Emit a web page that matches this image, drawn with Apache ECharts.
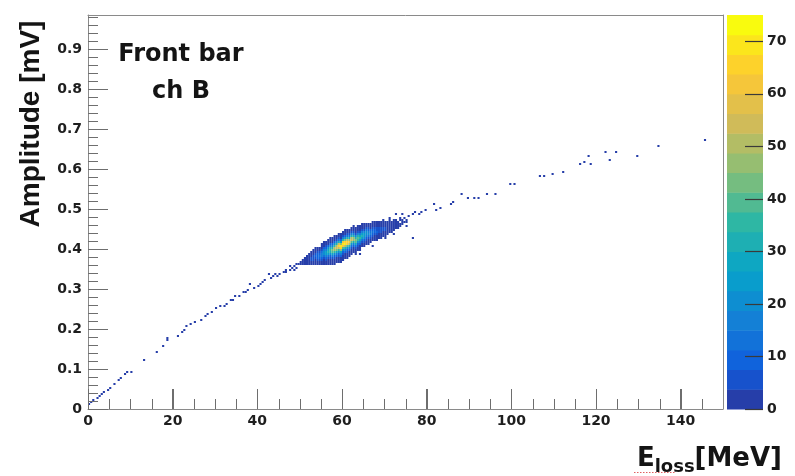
<!DOCTYPE html>
<html>
<head>
<meta charset="utf-8">
<script src="https://cdn.jsdelivr.net/npm/echarts@6/dist/echarts.min.js"></script>
<style>
  html, body { margin: 0; padding: 0; background: #fff; }
  #chart { width: 795px; height: 476px; }
</style>
</head>
<body>
<div id="chart"></div>
<script>
// Histogram binning: energy loss (MeV) x amplitude (mV)
const BIN_E = 0.5;
const BIN_A = 0.005;

// Axis ranges and tick spacing
const xRange = [0, 150];
const yRange = [0, 0.985];
const zRange = [0, 75];
const xMajor = 20, xMinor = 5;
const yMajor = 0.1, yMinor = 0.02;
const zMajor = 10;
const nContours = 20;

// Dense core of the distribution, one entry per energy bin:
// [E low edge, low edge of first amplitude bin, counts going upward]
const coreColumns = [
  [49.5, 0.360, [1]],
  [50.0, 0.360, [1, 1]],
  [50.5, 0.360, [1, 1, 1]],
  [51.0, 0.360, [1, 2, 1, 1]],
  [51.5, 0.360, [1, 2, 2, 1, 1]],
  [52.0, 0.360, [1, 1, 3, 3, 2, 1]],
  [52.5, 0.360, [1, 2, 4, 4, 2, 1, 1]],
  [53.0, 0.360, [1, 2, 4, 6, 5, 2, 1, 1]],
  [53.5, 0.360, [1, 1, 3, 6, 8, 6, 3, 1, 1]],
  [54.0, 0.360, [1, 2, 5, 9, 11, 8, 4, 1, 1]],
  [54.5, 0.360, [1, 3, 7, 11, 14, 10, 5, 2, 1]],
  [55.0, 0.360, [1, 2, 5, 10, 15, 17, 12, 6, 2, 1, 1]],
  [55.5, 0.360, [1, 1, 3, 7, 13, 19, 21, 15, 8, 3, 1, 1]],
  [56.0, 0.360, [1, 2, 5, 10, 18, 24, 25, 18, 10, 4, 1, 1]],
  [56.5, 0.360, [1, 1, 3, 7, 14, 23, 30, 28, 19, 9, 3, 1, 1]],
  [57.0, 0.360, [1, 1, 2, 5, 10, 20, 30, 36, 30, 18, 8, 3, 1, 1]],
  [57.5, 0.360, [1, 1, 3, 7, 15, 27, 38, 42, 32, 18, 8, 2, 1, 1]],
  [58.0, 0.360, [1, 1, 2, 5, 11, 20, 34, 46, 49, 36, 19, 8, 3, 1, 1]],
  [58.5, 0.365, [1, 1, 3, 8, 15, 28, 44, 56, 51, 32, 15, 5, 1, 1]],
  [59.0, 0.365, [1, 1, 2, 5, 11, 21, 37, 55, 64, 53, 32, 14, 5, 1, 1]],
  [59.5, 0.365, [1, 1, 3, 8, 16, 29, 48, 67, 68, 47, 23, 9, 3, 1, 1]],
  [60.0, 0.370, [1, 1, 2, 5, 11, 22, 39, 61, 71, 60, 36, 16, 6, 2, 1]],
  [60.5, 0.375, [1, 1, 3, 8, 16, 30, 51, 68, 64, 42, 20, 8, 2, 1, 1]],
  [61.0, 0.375, [1, 1, 2, 5, 11, 22, 41, 61, 66, 52, 30, 13, 4, 1, 1]],
  [61.5, 0.380, [1, 1, 3, 8, 16, 31, 51, 60, 48, 28, 12, 4, 1, 1]],
  [62.0, 0.385, [1, 1, 2, 6, 12, 24, 41, 55, 50, 33, 16, 6, 2, 1]],
  [62.5, 0.390, [1, 1, 3, 9, 18, 33, 47, 46, 32, 16, 6, 2, 1, 1]],
  [63.0, 0.385, [1, 1, 2, 6, 14, 27, 40, 43, 33, 17, 7, 2, 1, 1]],
  [63.5, 0.395, [1, 1, 4, 10, 21, 34, 39, 30, 17, 7, 2, 1, 1]],
  [64.0, 0.395, [1, 1, 3, 8, 17, 28, 34, 28, 16, 7, 2, 1, 1]],
  [64.5, 0.405, [1, 2, 6, 13, 23, 30, 26, 16, 7, 3, 1, 1]],
  [65.0, 0.405, [1, 1, 5, 11, 19, 26, 23, 15, 7, 2, 1, 1]],
  [65.5, 0.410, [1, 1, 4, 9, 16, 22, 19, 12, 5, 2, 1]],
  [66.0, 0.410, [1, 1, 3, 7, 13, 19, 16, 10, 4, 1, 1]],
  [66.5, 0.415, [1, 2, 6, 11, 16, 13, 8, 3, 1, 1]],
  [67.0, 0.420, [1, 1, 4, 9, 13, 11, 7, 3, 1, 1]],
  [67.5, 0.420, [1, 1, 3, 7, 11, 9, 5, 2, 1, 1]],
  [68.0, 0.420, [1, 1, 3, 6, 9, 7, 4, 2, 1, 1]],
  [68.5, 0.425, [1, 1, 2, 5, 7, 6, 3, 1, 1]],
  [69.0, 0.425, [1, 1, 2, 4, 6, 5, 2, 1, 1]],
  [69.5, 0.430, [1, 1, 3, 5, 4, 2, 1, 1]],
  [70.0, 0.430, [1, 1, 2, 4, 4, 2, 1, 1]],
  [70.5, 0.435, [1, 1, 2, 3, 3, 1, 1]],
  [71.0, 0.440, [1, 1, 2, 3, 2, 1, 1]],
  [71.5, 0.440, [1, 1, 2, 2, 1, 1]],
  [72.0, 0.445, [1, 1, 2, 2, 1, 1]],
  [72.5, 0.450, [1, 1, 2, 1, 1]],
  [73.0, 0.450, [1, 1, 1, 1]],
  [73.5, 0.455, [1, 1, 0, 1]],
  [74.0, 0.460, [1, 1, 1]],
  [74.5, 0.465, [1, 0, 1]],
  [75.0, 0.465, [1, 1]]
];

// Sparse entries along the response curve: [E (MeV), amplitude (mV), counts]
const trackEntries = [
  [0.2, 0.012, 3], [0.7, 0.017, 1], [1.3, 0.022, 1], [2.0, 0.028, 1],
  [2.6, 0.033, 1], [3.3, 0.038, 1], [3.9, 0.043, 1], [4.6, 0.049, 1],
  [5.3, 0.053, 1], [6.2, 0.062, 1], [7.0, 0.071, 1], [7.6, 0.075, 1],
  [8.6, 0.087, 1], [9.3, 0.090, 1], [10.2, 0.093, 1], [13.3, 0.124, 1],
  [16.0, 0.143, 1], [17.6, 0.157, 1], [18.7, 0.172, 1], [18.8, 0.179, 1],
  [21.2, 0.181, 1], [22.0, 0.191, 1],
  [22.9, 0.198, 1], [23.3, 0.206, 1], [24.2, 0.210, 1], [25.3, 0.218, 1],
  [26.5, 0.222, 1], [27.6, 0.231, 1], [28.4, 0.236, 1], [29.2, 0.243, 1],
  [30.4, 0.252, 1], [31.2, 0.257, 1], [32.0, 0.259, 1], [32.8, 0.264, 1],
  [33.7, 0.274, 2], [34.2, 0.270, 1], [34.7, 0.281, 1], [35.5, 0.283, 1],
  [36.7, 0.293, 1], [37.4, 0.290, 1], [37.9, 0.297, 1], [38.3, 0.314, 1],
  [39.2, 0.301, 1], [40.0, 0.307, 1], [40.6, 0.314, 1], [41.2, 0.318, 1],
  [41.8, 0.322, 1], [42.6, 0.339, 1], [43.0, 0.327, 1], [43.6, 0.331, 1],
  [44.0, 0.336, 1], [44.6, 0.331, 1], [45.0, 0.338, 1], [45.4, 0.335, 1],
  [46.2, 0.340, 1], [46.5, 0.348, 1], [46.9, 0.343, 1], [47.5, 0.347, 1],
  [47.8, 0.356, 1], [48.1, 0.352, 2], [48.5, 0.348, 1], [48.9, 0.356, 1],
  [49.0, 0.362, 1], [49.4, 0.352, 1],
  [53.2, 0.398, 1], [55.0, 0.405, 1], [57.8, 0.428, 1], [64.0, 0.388, 1],
  [66.5, 0.462, 1], [67.0, 0.408, 1], [68.2, 0.468, 1], [69.8, 0.472, 1],
  [70.2, 0.426, 1], [71.0, 0.476, 1], [72.3, 0.436, 1],
  [72.9, 0.485, 1], [73.5, 0.476, 1], [74.1, 0.489, 1], [74.5, 0.479, 1],
  [75.3, 0.458, 1], [75.8, 0.482, 1], [76.5, 0.489, 1], [76.9, 0.425, 1],
  [77.3, 0.493, 1], [78.0, 0.485, 1], [78.8, 0.493, 1], [79.6, 0.496, 1],
  [81.6, 0.510, 1], [82.4, 0.497, 1], [83.0, 0.503, 1], [85.5, 0.510, 1],
  [86.3, 0.518, 1], [88.3, 0.537, 1], [89.5, 0.527, 1], [91.4, 0.527, 1],
  [92.0, 0.529, 1], [94.2, 0.535, 1], [96.1, 0.539, 1], [99.7, 0.560, 1],
  [100.9, 0.564, 1], [106.8, 0.581, 1], [107.9, 0.581, 1], [109.9, 0.588, 1],
  [112.3, 0.593, 1], [116.2, 0.610, 1], [117.0, 0.618, 1], [118.4, 0.631, 1],
  [118.8, 0.614, 1], [122.4, 0.641, 1], [123.3, 0.622, 1], [124.9, 0.641, 1],
  [129.8, 0.632, 1], [134.9, 0.656, 1], [145.7, 0.672, 1]
];

// ---- fill the 2D histogram ----
const cells = new Map();
function fillBin(ix, iy, w) {
  const key = ix + ',' + iy;
  cells.set(key, (cells.get(key) || 0) + w);
}
coreColumns.forEach(([e, a0, counts]) => {
  const ix = Math.round(e / BIN_E);
  const iy0 = Math.round(a0 / BIN_A);
  counts.forEach((c, j) => { if (c > 0) fillBin(ix, iy0 + j, c); });
});
trackEntries.forEach(([e, a, c]) => {
  fillBin(Math.floor(e / BIN_E + 1e-9), Math.floor(a / BIN_A + 1e-9), c);
});
const histData = [];
cells.forEach((v, k) => {
  const [ix, iy] = k.split(',').map(Number);
  histData.push([ix * BIN_E, iy * BIN_A, v]);
});

// ---- frame tick marks along the bottom and left edges: [x, y, orientation, length px] ----
const tickMarks = [];
for (let i = 0; xRange[0] + i * xMinor <= xRange[1] - 1e-9; i++) {
  tickMarks.push([xRange[0] + i * xMinor, yRange[0], 0, (i % Math.round(xMajor / xMinor) === 0) ? 20 : 10]);
}
for (let i = 0; yRange[0] + i * yMinor <= yRange[1] + 1e-9; i++) {
  tickMarks.push([xRange[0], +(yRange[0] + i * yMinor).toFixed(4), 1, (i % Math.round(yMajor / yMinor) === 0) ? 20 : 10]);
}

// ---- "bird" colour palette, 20 contour bands ----
const birdR = [0.2082, 0.0592, 0.0780, 0.0232, 0.1802, 0.5301, 0.8186, 0.9956, 0.9764];
const birdG = [0.1664, 0.3599, 0.5041, 0.6419, 0.7178, 0.7492, 0.7328, 0.7862, 0.9832];
const birdB = [0.5293, 0.8684, 0.8385, 0.7914, 0.6425, 0.4662, 0.3499, 0.1968, 0.0539];
function bird(t) {
  t = Math.max(0, Math.min(1, t));
  const i = Math.min(7, Math.floor(t * 8));
  const f = t * 8 - i;
  const ch = k => Math.round(255 * (k[i] + (k[i + 1] - k[i]) * f));
  return 'rgb(' + ch(birdR) + ',' + ch(birdG) + ',' + ch(birdB) + ')';
}
const bandStep = (zRange[1] - zRange[0]) / nContours;
const bands = [];
for (let i = 0; i < nContours; i++) {
  bands.push({
    lo: zRange[0] + i * bandStep,
    hi: zRange[0] + (i + 1) * bandStep,
    color: bird((i + 0.99) / nContours)
  });
}
function bandColor(v) {
  const i = Math.max(0, Math.min(nContours - 1, Math.floor((v - zRange[0]) / bandStep)));
  return bands[i].color;
}

const FONT = '"DejaVu Sans", "Liberation Sans", sans-serif';
const labelStyle = { color: '#1e1e1e', fontFamily: FONT, fontWeight: 'bold', fontSize: 14 };
const frameColor = '#8a8a8a';
const tickColor = '#6e6e6e';
const plotRect = { left: 88, top: 15, width: 635, height: 394 };

const chart = echarts.init(document.getElementById('chart'));

chart.setOption({
  animation: false,
  grid: [
    Object.assign({}, plotRect),                       // 0: histogram, bottom/left axes
    { left: 727, top: 15, width: 36, height: 394 },    // 1: colour scale
    Object.assign({}, plotRect)                        // 2: top/right border of the frame
  ],
  xAxis: [
    { gridIndex: 0, type: 'value', position: 'bottom', min: xRange[0], max: xRange[1], interval: xMajor,
      axisLine: { show: true, onZero: false, lineStyle: { color: frameColor, width: 1 } },
      axisTick: { show: true, inside: true, length: 20, lineStyle: { color: tickColor, width: 1 } },
      axisLabel: Object.assign({ margin: 5, showMaxLabel: false }, labelStyle),
      splitLine: { show: false } },
    { gridIndex: 1, type: 'value', min: 0, max: 1, show: false },
    { gridIndex: 2, type: 'value', position: 'top', min: xRange[0], max: xRange[1],
      axisLine: { show: true, onZero: false, lineStyle: { color: frameColor, width: 1 } },
      axisTick: { show: false }, axisLabel: { show: false }, splitLine: { show: false } }
  ],
  yAxis: [
    { gridIndex: 0, type: 'value', position: 'left', min: yRange[0], max: yRange[1], interval: yMajor,
      axisLine: { show: true, onZero: false, lineStyle: { color: frameColor, width: 1 } },
      axisTick: { show: true, inside: true, length: 20, lineStyle: { color: tickColor, width: 1 } },
      axisLabel: Object.assign({ margin: 6, showMaxLabel: false }, labelStyle),
      splitLine: { show: false } },
    { gridIndex: 1, type: 'value', position: 'right', min: zRange[0], max: zRange[1], interval: zMajor, z: 6,
      axisLine: { show: false, onZero: false },
      axisTick: { show: true, inside: true, length: 18, lineStyle: { color: '#3a3a3a', width: 1.2 } },
      axisLabel: Object.assign({ margin: 4, showMaxLabel: false }, labelStyle),
      splitLine: { show: false } },
    { gridIndex: 2, type: 'value', position: 'right', min: yRange[0], max: yRange[1],
      axisLine: { show: true, onZero: false, lineStyle: { color: frameColor, width: 1 } },
      axisTick: { show: false }, axisLabel: { show: false }, splitLine: { show: false } }
  ],
  series: [
    {
      // 2D histogram cells, coloured by contour band
      type: 'custom',
      xAxisIndex: 0, yAxisIndex: 0,
      data: histData,
      encode: { x: 0, y: 1 },
      silent: true,
      clip: true,
      renderItem: function (params, api) {
        const e = api.value(0), a = api.value(1);
        const p0 = api.coord([e, a + BIN_A]);
        const p1 = api.coord([e + BIN_E, a]);
        return {
          type: 'rect',
          shape: { x: p0[0], y: p0[1], width: p1[0] - p0[0], height: p1[1] - p0[1] },
          style: { fill: bandColor(api.value(2)) }
        };
      }
    },
    {
      // colour scale bands
      type: 'custom',
      xAxisIndex: 1, yAxisIndex: 1,
      data: bands.map((b, i) => [0, b.lo, b.hi, i]),
      encode: { x: 0, y: [1, 2] },
      silent: true,
      renderItem: function (params, api) {
        const p0 = api.coord([0, api.value(2)]);
        const p1 = api.coord([1, api.value(1)]);
        return {
          type: 'rect',
          shape: { x: p0[0], y: p0[1], width: p1[0] - p0[0], height: p1[1] - p0[1] + 0.5 },
          style: { fill: bands[api.value(3)].color }
        };
      }
    },
    {
      // inward major and minor ticks on the bottom and left frame edges,
      // on their own layer above the histogram
      type: 'custom',
      xAxisIndex: 0, yAxisIndex: 0,
      data: tickMarks,
      encode: { x: 0, y: 1 },
      silent: true,
      zlevel: 1,
      renderItem: function (params, api) {
        const p = api.coord([api.value(0), api.value(1)]);
        const len = api.value(3);
        const shape = api.value(2) === 0
          ? { x: Math.round(p[0]), y: p[1] - len, width: 1, height: len }
          : { x: p[0], y: Math.round(p[1]), width: len, height: 1 };
        return { type: 'rect', shape: shape, style: { fill: tickColor } };
      }
    }
  ],
  graphic: [
    {
      type: 'text', x: 181, y: 36,
      style: {
        text: 'Front bar\nch B', textAlign: 'center', textVerticalAlign: 'top',
        font: 'bold 24px ' + FONT, lineHeight: 37, fill: '#141414'
      }
    },
    {
      type: 'text', x: 31, y: 124, rotation: Math.PI / 2,
      style: {
        text: 'Amplitude [mV]', textAlign: 'center', textVerticalAlign: 'middle',
        font: 'bold 28px "Liberation Sans", Arial, sans-serif', fill: '#141414'
      }
    },
    {
      type: 'text', x: 782, y: 476,
      style: {
        text: '{big|E}{sub|loss}{big|[MeV]}',
        textAlign: 'right', textVerticalAlign: 'bottom',
        rich: {
          big: { fontFamily: FONT, fontWeight: 'bold', fontSize: 26, fill: '#141414',
                 verticalAlign: 'bottom', padding: [0, 0, 4, 0] },
          sub: { fontFamily: FONT, fontWeight: 'bold', fontSize: 18, fill: '#141414',
                 verticalAlign: 'bottom' }
        }
      }
    },
    {
      type: 'line', shape: { x1: 634, y1: 472.5, x2: 676, y2: 472.5 },
      style: { stroke: '#e06060', lineWidth: 1, lineDash: [1.5, 1.5] }
    }
  ]
});
</script>
</body>
</html>
